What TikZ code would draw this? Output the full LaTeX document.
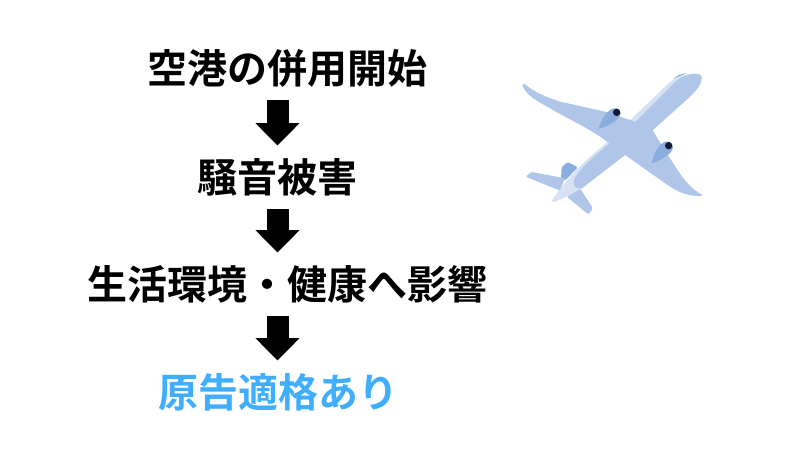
\documentclass[tikz,border=0pt]{standalone}
\usepackage{fontspec}
\usetikzlibrary{arrows.meta}
\newfontfamily\cjk{Noto Sans CJK JP}[BoldFont={Noto Sans CJK JP Bold}]
\definecolor{planemain}{HTML}{B0C6E8}
\definecolor{planedark}{HTML}{8AADE0}
\definecolor{planelight}{HTML}{D6E1F3}
\definecolor{planeink}{HTML}{0E1A33}
\definecolor{skyblue}{HTML}{3FAEFF}
\tikzset{
  label text/.style={inner sep=0pt,font=\cjk\bfseries\fontsize{40}{40}\selectfont,text height=29pt,text depth=5pt,anchor=center},
  block arrow/.style={line width=22pt,-{Triangle[length=22.5pt,width=43pt]},shorten <=29pt,shorten >=34.5pt},
}
\begin{document}
\begin{tikzpicture}[x=1pt,y=-1pt]
\useasboundingbox (0,0) rectangle (800,450);
\coordinate (ax) at (277.5,0);
\node[label text] (t1) at (287.5,71) {空港の併用開始};
\node[label text] (t2) at (277,180) {騒音被害};
\node[label text] (t3) at (287,287) {生活環境・健康へ影響};
\node[label text,text=skyblue] (t4) at (278,395) {原告適格あり};
\draw[block arrow] (t1.center -| ax) -- (t2.center -| ax);
\draw[block arrow] (t2.center -| ax) -- (t3.center -| ax);
\draw[block arrow] (t3.center -| ax) -- (t4.center -| ax);
\begin{scope}[shift={(510,60)},x=0.3333pt,y=-0.3333pt]
  % fin and tailplanes
  \fill[planedark,rounded corners=1.5pt] (153,358) -- (155,322) -- (173,306) -- (204,322) -- (165,362) -- cycle;
  \fill[planemain,rounded corners=1pt] (47,350) -- (65,336) -- (165,355) -- (150,392) -- cycle;
  \fill[planemain,rounded corners=1.5pt] (170,410) -- (210,385) -- (249,445) -- (236,464) -- (225,455) -- cycle;
  % fuselage, light
  \fill[planelight] (575,50) .. controls (578,70) and (560,90) .. (540,110) -- (345,285) -- (215,385)
    .. controls (190,400) and (150,420) .. (130,427) .. controls (125,427) and (124,420) .. (130,415)
    .. controls (155,380) and (195,325) .. (290,248) -- (478,68)
    .. controls (495,50) and (560,28) .. (575,50) -- cycle;
  % fuselage, main tone
  \fill[planemain] (575,50) .. controls (578,70) and (560,90) .. (540,110) -- (345,285) -- (215,385)
    .. controls (200,387) and (190,380) .. (191,365)
    .. controls (198,335) and (245,295) .. (295,253) -- (380,182) -- (497,64)
    .. controls (515,48) and (565,30) .. (575,50) -- cycle;
  % wings
  \fill[planemain] (37,73) .. controls (40,70) and (44,71) .. (47,74)
    .. controls (70,95) and (110,112) .. (150,125) -- (285,155) -- (360,180) -- (430,210) -- (345,285) -- (295,248)
    .. controls (240,205) and (170,175) .. (120,145)
    .. controls (80,122) and (45,105) .. (37,73) -- cycle;
  \fill[planemain] (428,210) .. controls (445,240) and (470,280) .. (490,310)
    .. controls (520,360) and (550,392) .. (575,403) -- (577,407)
    .. controls (550,410) and (520,405) .. (480,380) -- (345,285) -- cycle;
  % engines
  \fill[planedark] (265,206) .. controls (272,185) and (282,165) .. (300,150)
    .. controls (312,142) and (325,142) .. (332,160) .. controls (332,170) and (325,175) .. (315,183)
    .. controls (300,195) and (280,204) .. (265,206) -- cycle;
  \fill[planeink] (320,157) circle[radius=11];
  \fill[planedark] (425,310) .. controls (428,290) and (438,268) .. (455,251)
    .. controls (468,240) and (482,242) .. (489,260) .. controls (489,270) and (482,278) .. (472,286)
    .. controls (460,296) and (440,306) .. (425,310) -- cycle;
  \fill[planeink] (476,257) circle[radius=11];
  % cockpit
  \fill[planedark] (490,57) .. controls (497,48) and (515,40) .. (530,40) .. controls (515,46) and (500,52) .. (490,57) -- cycle;
\end{scope}
\end{tikzpicture}
\end{document}
